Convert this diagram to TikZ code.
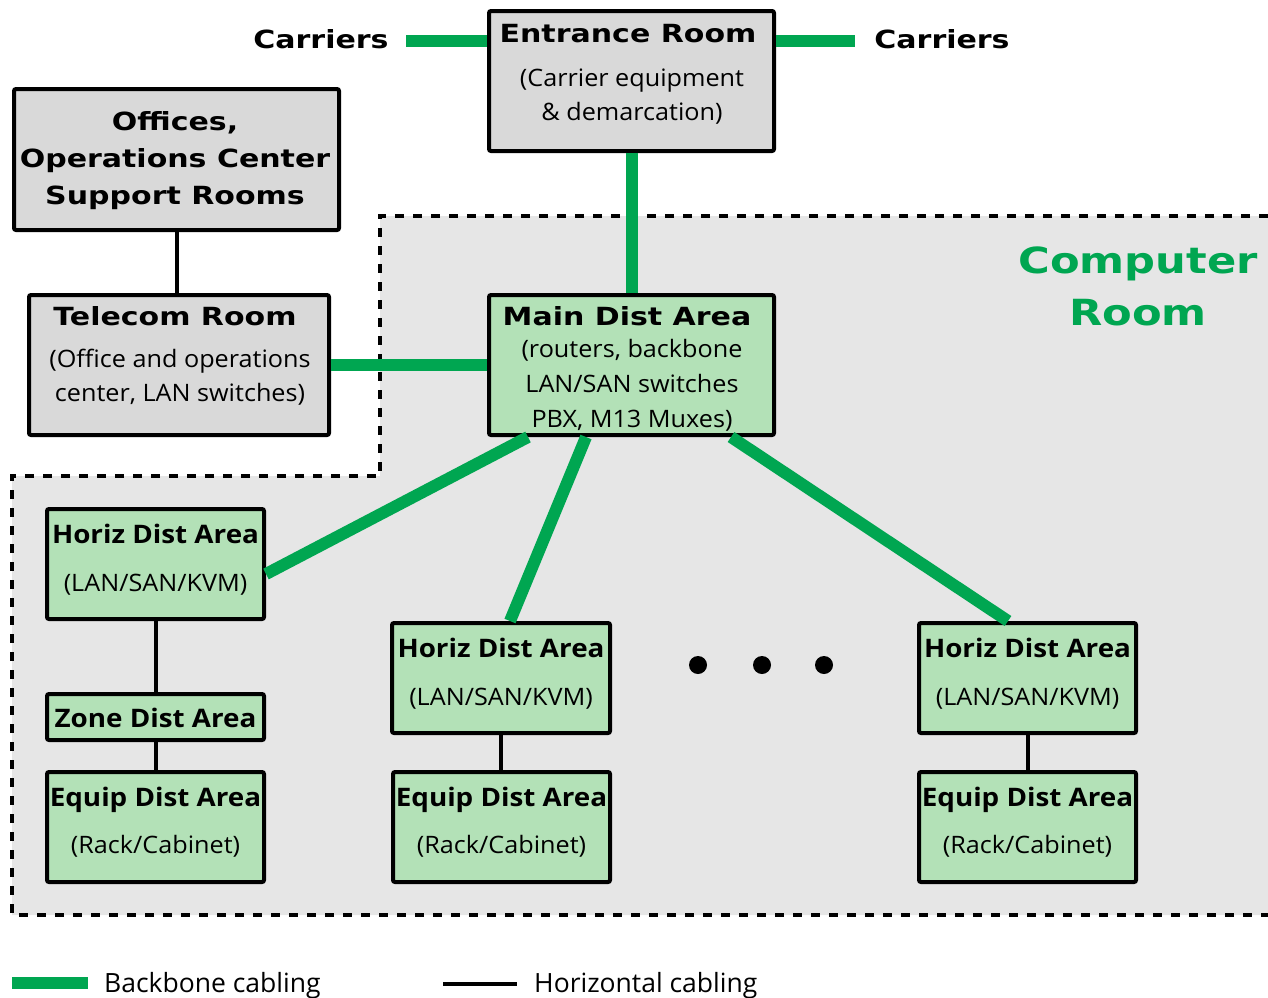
\documentclass[tikz,border=0pt]{standalone}
\usepackage{fontspec}
\setmainfont{Open Sans}
\newfontfamily\vbold{DejaVu Sans Bold}[FakeStretch=1.2]
\newfontfamily\myr{Open Sans}[FakeStretch=1.05]
\newfontfamily\myrb{Open Sans Bold}[FakeStretch=1.09]
\newfontfamily\myrc{Open Sans}
\usetikzlibrary{calc}
\definecolor{cgreen}{HTML}{00A651}
\definecolor{boxgreen}{HTML}{B3E1B7}
\definecolor{boxgray}{HTML}{D9D9D9}
\definecolor{roomgray}{HTML}{E6E6E6}
\begin{document}
\begin{tikzpicture}[x=1pt,y=-1pt,
  box/.style={draw=black, line width=4pt, rounded corners=2pt, inner sep=0pt},
  graybox/.style={box, fill=boxgray},
  greenbox/.style={box, fill=boxgreen},
  bb/.style={line width=12pt, draw=cgreen},
  hz/.style={line width=4pt, draw=black},
  vt/.style={font=\vbold\fontsize{25}{25}\selectfont, anchor=base, inner sep=0pt},
  st/.style={font=\myr\fontsize{24}{24}\selectfont, anchor=base, inner sep=0pt},
  mt/.style={font=\myrb\fontsize{25.5}{25.5}\selectfont, anchor=base, inner sep=0pt},
  lg/.style={font=\myrc\fontsize{26.5}{26.5}\selectfont, anchor=base west, inner sep=0pt}]
\useasboundingbox (0,0) rectangle (1268,997);
% computer room region
\path[fill=roomgray] (380,216) -- (1268,216) -- (1268,915) -- (12,915) -- (12,476) -- (380,476) -- cycle;
\draw[line width=4pt, dash pattern=on 9pt off 9pt] (1268,216) -- (380,216) -- (380,476) -- (12,476) -- (12,915) -- (1268,915);
\node[font=\vbold\fontsize{36}{36}\selectfont, text=cgreen, anchor=base, inner sep=0pt] (cr1) at (1138,273) {Computer};
\node[font=\vbold\fontsize{36}{36}\selectfont, text=cgreen, anchor=base, inner sep=0pt] (cr2) at (1138,325) {Room};
% boxes
\node[graybox, minimum width=285pt, minimum height=140pt] (er) at (631.5,81) {};
\node[graybox, minimum width=325pt, minimum height=141pt] (off) at (176.5,159.5) {};
\node[graybox, minimum width=300pt, minimum height=140pt] (tel) at (179,365) {};
\node[greenbox, minimum width=285pt, minimum height=140pt] (mda) at (631.5,365) {};
\node[greenbox, minimum width=217pt, minimum height=110pt] (hda1) at (155.5,564) {};
\node[greenbox, minimum width=217pt, minimum height=46pt] (zda) at (155.5,717) {};
\node[greenbox, minimum width=217pt, minimum height=110pt] (eda1) at (155.5,827) {};
\node[greenbox, minimum width=218pt, minimum height=110pt] (hda2) at (501,678) {};
\node[greenbox, minimum width=217pt, minimum height=110pt] (eda2) at (501.5,827) {};
\node[greenbox, minimum width=217pt, minimum height=110pt] (hda3) at (1027.5,678) {};
\node[greenbox, minimum width=217pt, minimum height=110pt] (eda3) at (1027.5,827) {};
% carriers
\node[vt] (cl) at (321,48) {Carriers};
\node[vt] (cr) at (942,48) {Carriers};
\coordinate (clend) at (406,41);
\coordinate (crend) at (855,41);
\draw[bb] (clend) -- (er.west |- clend);
\draw[bb] (er.east |- crend) -- (crend);
% texts
\node[vt] (er-t) at (628,42) {Entrance Room};
\node[st] (er-s1) at (632,86) {(Carrier equipment};
\node[st] (er-s2) at (632,120) {\& demarcation)};
\node[vt] (off-1) at (175,130) {Offices,};
\node[vt] (off-2) at (175,167) {Operations Center};
\node[vt] (off-3) at (175,204) {Support Rooms};
\node[vt] (tel-t) at (175,325) {Telecom Room};
\node[st] (tel-s1) at (180,367) {(Office and operations};
\node[st] (tel-s2) at (180,401) {center, LAN switches)};
\node[vt] (mda-t) at (627,325) {Main Dist Area};
\node[st] (mda-s1) at (632,357) {(routers, backbone};
\node[st] (mda-s2) at (632,392) {LAN/SAN switches};
\node[st] (mda-s3) at (632,427) {PBX, M13 Muxes)};
\node[mt] (hda1-t) at (155.5,543) {Horiz Dist Area};
\node[st] (hda1-s) at (155.5,591) {(LAN/SAN/KVM)};
\node[mt] (zda-t) at (155.5,727) {Zone Dist Area};
\node[mt] (eda1-t) at (155.5,806) {Equip Dist Area};
\node[st] (eda1-s) at (155.5,853) {(Rack/Cabinet)};
\node[mt] (hda2-t) at (501,657) {Horiz Dist Area};
\node[st] (hda2-s) at (501,705) {(LAN/SAN/KVM)};
\node[mt] (eda2-t) at (501.5,806) {Equip Dist Area};
\node[st] (eda2-s) at (501.5,853) {(Rack/Cabinet)};
\node[mt] (hda3-t) at (1027.5,657) {Horiz Dist Area};
\node[st] (hda3-s) at (1027.5,705) {(LAN/SAN/KVM)};
\node[mt] (eda3-t) at (1027.5,806) {Equip Dist Area};
\node[st] (eda3-s) at (1027.5,853) {(Rack/Cabinet)};
% backbone cabling
\draw[bb] (er.south) -- (mda.north);
\draw[bb] (tel.east) -- (mda.west);
\draw[bb] ($(mda.south west)+(41,0)$) -- ($(hda1.north east)+(0,67)$);
\draw[bb] ($(mda.south west)+(99,0)$) -- ($(hda2.north)+(9,0)$);
\draw[bb] ($(mda.south west)+(244,0)$) -- ($(hda3.north west)+(91,0)$);
% horizontal cabling
\draw[hz] (off.south) -- (off.south |- tel.north);
\draw[hz] (hda1.south) -- (zda.north);
\draw[hz] (zda.south) -- (eda1.north);
\draw[hz] (hda2.south) -- (hda2.south |- eda2.north);
\draw[hz] (hda3.south) -- (eda3.north);
% dots
\fill (698,665) circle (9) node (d1) {};
\fill (762,665) circle (9) node (d2) {};
\fill (824,665) circle (9) node (d3) {};
% legend
\coordinate (lg1a) at (12,983);
\coordinate (lg1b) at (88,983);
\draw[line width=12pt, draw=cgreen] (lg1a) -- (lg1b);
\node[lg] (lg1t) at (104,992) {Backbone cabling};
\coordinate (lg2a) at (443,984);
\coordinate (lg2b) at (517,984);
\draw[hz] (lg2a) -- (lg2b);
\node[lg] (lg2t) at (534,992) {Horizontal cabling};
\end{tikzpicture}
\end{document}
